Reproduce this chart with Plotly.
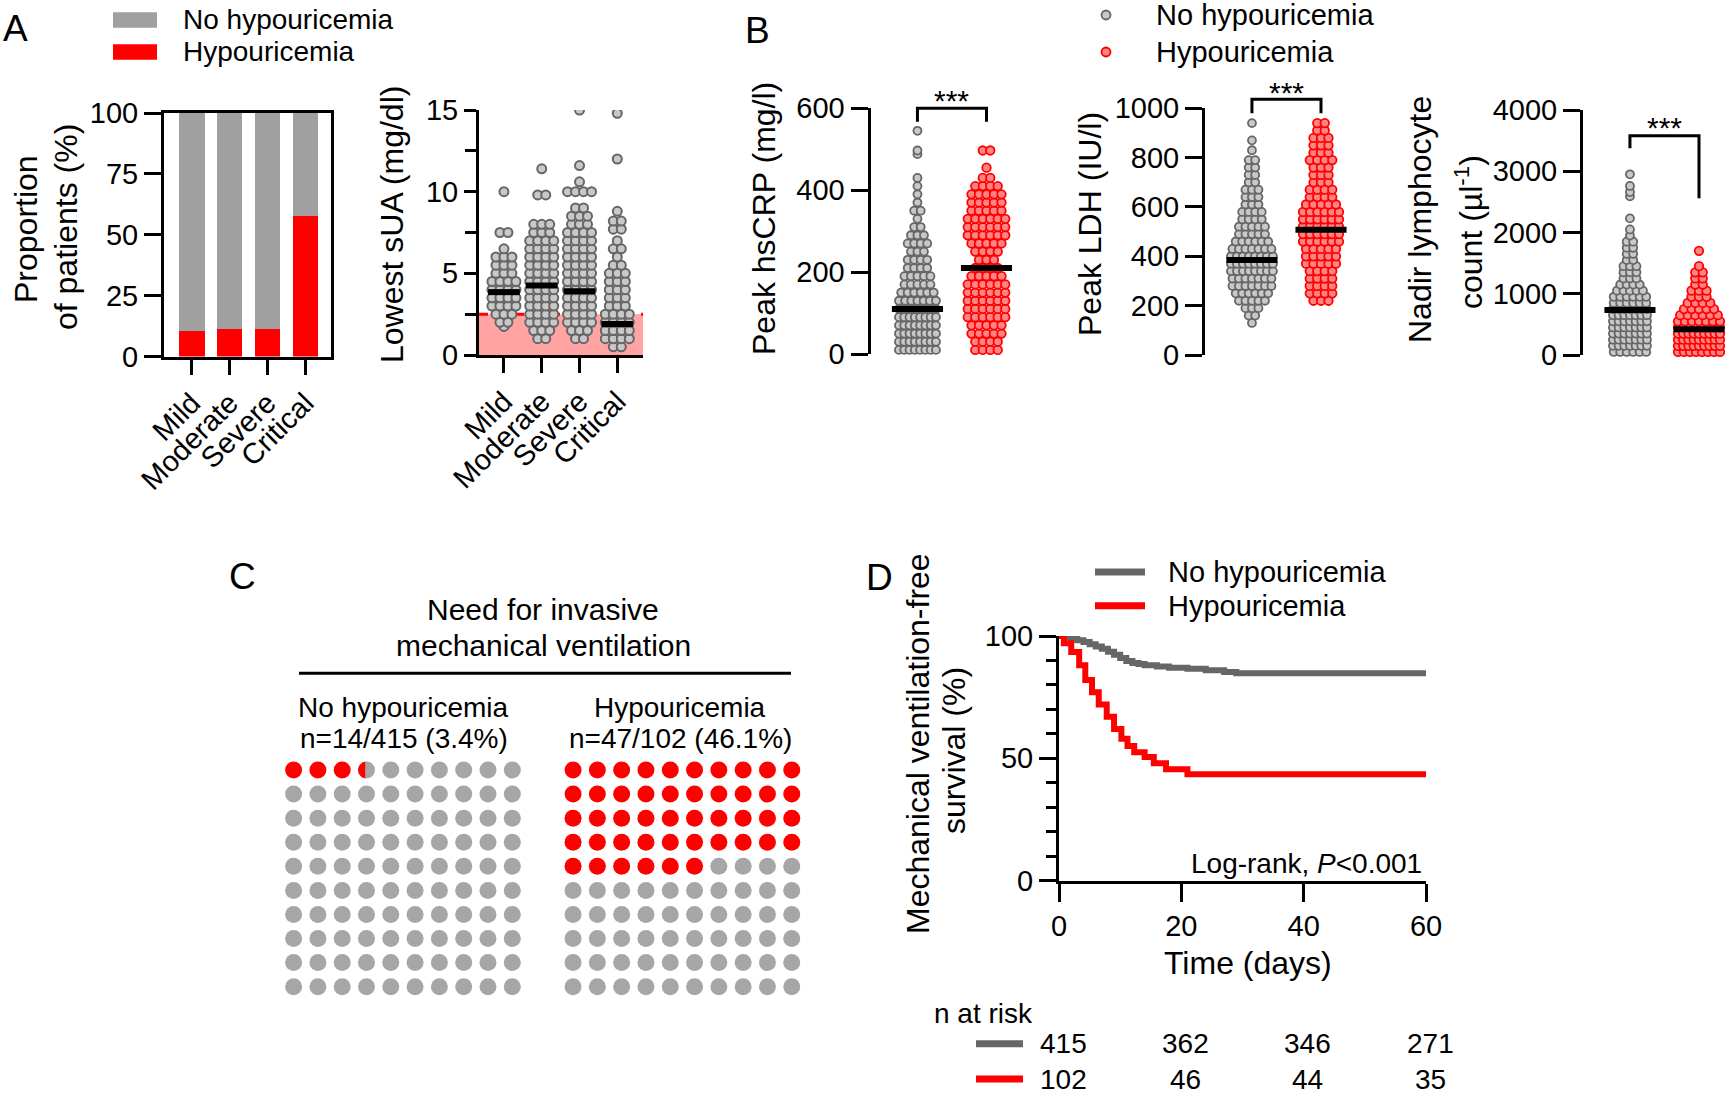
import math
import plotly.graph_objects as go

W, H = 1729, 1097
FONT = "Arial, Liberation Sans, Helvetica, sans-serif"

# ---------------- data ----------------
severity = ["Mild", "Moderate", "Severe", "Critical"]
hypo_pct = [10.3, 11.1, 11.5, 57.5]
no_hypo_pct = [89.7, 88.9, 88.5, 42.5]

# Lowest sUA (mg/dl): value rows and number of points per row, per severity
sua_mild_vals = [1.75, 2.0, 2.5, 3.0, 3.5, 4.0, 4.5, 5.0, 5.5, 6.0, 6.5, 7.5, 10.0]
sua_mild_counts = [1, 2, 3, 4, 4, 4, 4, 3, 3, 3, 1, 2, 1]
sua_moderate_vals = [1.0, 1.5, 2.0, 2.5, 3.0, 3.5, 4.0, 4.5, 5.0, 5.5, 6.0, 6.5, 7.0, 7.5, 8.0, 9.8, 11.4]
sua_moderate_counts = [2, 3, 4, 4, 4, 4, 4, 4, 4, 4, 4, 4, 4, 3, 3, 2, 1]
sua_severe_vals = [1.0, 1.5, 2.0, 2.5, 3.0, 3.5, 4.0, 4.5, 5.0, 5.5, 6.0, 6.5, 7.0, 7.5, 8.0, 8.5, 9.0, 10.0, 10.6, 11.6, 15.0]
sua_severe_counts = [2, 3, 4, 4, 4, 4, 4, 4, 4, 4, 4, 4, 4, 4, 3, 3, 2, 4, 1, 1, 1]
sua_critical_vals = [0.5, 1.0, 1.5, 2.0, 2.5, 3.0, 3.5, 4.0, 4.5, 5.0, 5.5, 6.0, 6.5, 7.0, 7.7, 8.2, 8.8, 12.0, 14.8]
sua_critical_counts = [2, 4, 4, 4, 4, 3, 3, 3, 3, 3, 2, 1, 2, 1, 2, 2, 1, 1, 1]
sua_medians = [3.85, 4.25, 3.9, 1.9]
sua_cutoff = 2.5

# Peak hsCRP (mg/l)
crp_no_vals = [10, 30, 50, 70, 90, 110, 130, 150, 170, 190, 210, 230, 250, 270, 290, 310, 330, 350, 370, 390, 410, 430, 488, 497, 545]
crp_no_counts = [8, 8, 8, 8, 8, 8, 7, 6, 5, 5, 4, 4, 3, 4, 3, 2, 1, 2, 1, 1, 1, 1, 1, 1, 1]
crp_hypo_vals = [10, 30, 50, 70, 90, 110, 130, 150, 170, 190, 210, 230, 250, 270, 290, 310, 330, 350, 370, 390, 410, 430, 455, 497]
crp_hypo_counts = [4, 4, 5, 5, 6, 6, 6, 6, 6, 5, 4, 3, 4, 5, 6, 6, 6, 5, 5, 5, 4, 2, 1, 2]
crp_medians = [110, 210]

# Peak LDH (IU/l)
ldh_no_vals = [130, 160, 190, 220, 250, 280, 310, 340, 370, 400, 430, 460, 490, 520, 550, 580, 610, 640, 670, 700, 730, 760, 790, 830, 870, 940]
ldh_no_counts = [1, 2, 3, 5, 6, 7, 7, 8, 8, 8, 7, 6, 5, 5, 4, 4, 3, 3, 3, 2, 2, 2, 2, 1, 1, 1]
ldh_hypo_vals = [220, 250, 280, 310, 340, 370, 400, 430, 460, 490, 520, 550, 580, 610, 640, 670, 700, 730, 760, 790, 820, 850, 880, 910, 940]
ldh_hypo_counts = [3, 4, 4, 4, 4, 5, 5, 5, 6, 6, 6, 6, 6, 5, 4, 4, 3, 3, 3, 4, 3, 3, 3, 2, 2]
ldh_medians = [385, 508]

# Nadir lymphocyte count (per µl)
lym_no_vals = [50, 150, 250, 350, 450, 550, 650, 750, 850, 950, 1050, 1150, 1250, 1350, 1450, 1550, 1650, 1750, 1850, 1950, 2050, 2230, 2590, 2660, 2760, 2950]
lym_no_counts = [6, 7, 7, 7, 7, 7, 7, 7, 6, 6, 5, 4, 3, 3, 3, 2, 2, 2, 2, 1, 1, 1, 1, 1, 1, 1]
lym_hypo_vals = [50, 150, 250, 350, 450, 550, 650, 750, 850, 950, 1050, 1150, 1250, 1350, 1450, 1700]
lym_hypo_counts = [8, 9, 9, 9, 8, 7, 6, 5, 4, 3, 3, 2, 2, 2, 1, 1]
lym_medians = [735, 420]

# Need for invasive mechanical ventilation (%)
mv_groups = ["No hypouricemia", "Hypouricemia"]
mv_text = ["n=14/415 (3.4%)", "n=47/102 (46.1%)"]
mv_pct = [3.4, 46.1]

# Kaplan-Meier: mechanical ventilation-free survival (%)
km_no_t = [0, 1, 2, 3, 4, 5, 6, 7, 8, 9, 10, 11, 12, 13, 14, 16, 18, 21, 24, 27, 29, 60]
km_no_s = [100, 99.5, 99, 98.3, 97.5, 96.6, 95.7, 94.8, 93.6, 92.3, 91, 89.8, 89, 88.5, 88, 87.5, 87, 86.6, 86, 85.3, 84.8, 84.8]
km_hypo_t = [0, 0.8, 2, 3.3, 4.3, 5.4, 6.5, 7.8, 9, 10.2, 11.2, 12.3, 14, 15.5, 17.5, 21, 60]
km_hypo_s = [100, 97, 93.5, 88, 82, 77, 72, 67, 62, 58, 55, 52.5, 50.5, 48, 45.5, 43.5, 43.5]
risk_times = [0, 20, 40, 60]
risk_no = [415, 362, 346, 271]
risk_hypo = [102, 46, 44, 35]

# ---------------- styling ----------------
GRAY_BAR = "#a0a0a0"
RED = "#ff0000"
DARK = "#666666"
PT_FILL = "#c8c8c8"
RED_FILL = "#ff8585"
PINK = "#ffa3a3"
WAFFLE_GRAY = "#a6a6a6"
TICKLEN = 17


def X(px):
    return px / W


def Y(py):
    return 1 - py / H


AX = dict(showgrid=False, zeroline=False, showline=True, linecolor="black", linewidth=3, automargin=False,
          ticks="outside", tickwidth=3, tickcolor="black", ticklen=TICKLEN,
          tickfont=dict(family=FONT, size=29, color="black"))
HIDDEN = dict(visible=False, showgrid=False, zeroline=False, automargin=False)

# panel pixel boxes (left, right, top, bottom) and ranges
P = {
    "A1": dict(box=(164, 331, 113, 356.5), xr=[-0.74, 3.68], yr=[0, 100]),
    "A2": dict(box=(479, 643, 110, 355), xr=[-0.66, 3.68], yr=[0, 15]),
    "B1": dict(box=(870.5, 1015.5, 108.3, 354), xr=[-0.68, 1.42], yr=[0, 600]),
    "B2": dict(box=(1205, 1350, 108.3, 355), xr=[-0.68, 1.42], yr=[0, 1000]),
    "B3": dict(box=(1583, 1728, 110, 355), xr=[-0.68, 1.42], yr=[0, 4000]),
    "C": dict(box=(281.45, 803.9, 758, 998.7), xr=[-0.5, 21], yr=[9.5, -0.5]),
    "D": dict(box=(1059, 1426, 636, 880.5), xr=[0, 60], yr=[0, 100]),
}


def ppu_x(p):
    b = P[p]["box"]
    return (b[1] - b[0]) / (P[p]["xr"][1] - P[p]["xr"][0])


def ppu_y(p):
    b = P[p]["box"]
    return (b[3] - b[2]) / abs(P[p]["yr"][1] - P[p]["yr"][0])


def data_to_px_x(p, v):
    return P[p]["box"][0] + (v - P[p]["xr"][0]) * ppu_x(p)


def dom(p):
    b = P[p]["box"]
    return [X(b[0]), X(b[1])], [Y(b[3]), Y(b[2])]


def swarm(vals, counts, center, ppu, spacing_px, wmax_px):
    xs, ys = [], []
    for v, n in zip(vals, counts):
        s = spacing_px if n <= 1 else min(spacing_px, wmax_px / (n - 1))
        for i in range(n):
            xs.append(center + (i - (n - 1) / 2) * s / ppu)
            ys.append(v)
    return xs, ys


fig = go.Figure()

# ---------------- A1: stacked bars ----------------
fig.add_trace(go.Bar(x=[0, 1, 2, 3], y=hypo_pct, width=0.67, marker=dict(color=RED, line=dict(width=0)),
                     xaxis="x", yaxis="y"))
fig.add_trace(go.Bar(x=[0, 1, 2, 3], y=no_hypo_pct, width=0.67, marker=dict(color=GRAY_BAR, line=dict(width=0)),
                     xaxis="x", yaxis="y"))

# ---------------- A2: lowest sUA ----------------
sua_sets = [(sua_mild_vals, sua_mild_counts), (sua_moderate_vals, sua_moderate_counts),
            (sua_severe_vals, sua_severe_counts), (sua_critical_vals, sua_critical_counts)]
fig.add_shape(type="rect", xref="x2", yref="y2", x0=P["A2"]["xr"][0], x1=P["A2"]["xr"][1], y0=0, y1=sua_cutoff,
              fillcolor=PINK, line=dict(width=0), layer="below")
fig.add_shape(type="line", xref="x2", yref="y2", x0=P["A2"]["xr"][0], x1=P["A2"]["xr"][1], y0=sua_cutoff,
              y1=sua_cutoff, line=dict(color=RED, width=3, dash="dash"), layer="below")
for i, (vals, cnts) in enumerate(sua_sets):
    xs, ys = swarm(vals, cnts, i, ppu_x("A2"), 8, 26)
    fig.add_trace(go.Scatter(x=xs, y=ys, mode="markers", xaxis="x2", yaxis="y2",
                             marker=dict(size=9, color=PT_FILL, line=dict(color=DARK, width=2))))
for i, m in enumerate(sua_medians):
    fig.add_trace(go.Scatter(x=[i - 0.42, i + 0.42], y=[m, m], mode="lines", xaxis="x2", yaxis="y2",
                             line=dict(color="black", width=6)))

# ---------------- B: three scatter panels ----------------
b_sets = [
    ("B1", "x3", "y3", (crp_no_vals, crp_no_counts), (crp_hypo_vals, crp_hypo_counts), crp_medians, (37, 38)),
    ("B2", "x4", "y4", (ldh_no_vals, ldh_no_counts), (ldh_hypo_vals, ldh_hypo_counts), ldh_medians, (42, 36)),
    ("B3", "x5", "y5", (lym_no_vals, lym_no_counts), (lym_hypo_vals, lym_hypo_counts), lym_medians, (34, 42)),
]
for p, xa, ya, g0, g1, meds, wmax in b_sets:
    xs, ys = swarm(g0[0], g0[1], 0, ppu_x(p), 6.5, wmax[0])
    fig.add_trace(go.Scatter(x=xs, y=ys, mode="markers", xaxis=xa, yaxis=ya, cliponaxis=False,
                             marker=dict(size=8, color=PT_FILL, line=dict(color=DARK, width=1.8))))
    xs, ys = swarm(g1[0], g1[1], 1, ppu_x(p), 7.5, wmax[1])
    fig.add_trace(go.Scatter(x=xs, y=ys, mode="markers", xaxis=xa, yaxis=ya, cliponaxis=False,
                             marker=dict(size=8.5, color=RED_FILL, line=dict(color=RED, width=1.8))))
    for i, m in enumerate(meds):
        fig.add_trace(go.Scatter(x=[i - 0.37, i + 0.37], y=[m, m], mode="lines", xaxis=xa, yaxis=ya,
                                 line=dict(color="black", width=6)))

# ---------------- C: waffle ----------------
col_offsets = [0, 11.5]
for g, pct in enumerate(mv_pct):
    full = int(math.floor(pct))
    frac = pct - full
    xs_r, ys_r, xs_g, ys_g = [], [], [], []
    for k in range(100):
        r, c = divmod(k, 10)
        x = col_offsets[g] + c
        if k < full:
            xs_r.append(x)
            ys_r.append(r)
        else:
            xs_g.append(x)
            ys_g.append(r)
    fig.add_trace(go.Scatter(x=xs_g, y=ys_g, mode="markers", xaxis="x6", yaxis="y6",
                             marker=dict(size=17, color=WAFFLE_GRAY, line=dict(width=0))))
    fig.add_trace(go.Scatter(x=xs_r, y=ys_r, mode="markers", xaxis="x6", yaxis="y6",
                             marker=dict(size=17, color=RED, line=dict(width=0))))
    if frac >= 0.25:
        # left circular segment covering `frac` of the dot's area
        lo, hi = 0.0, 2.0
        for _ in range(60):
            h = (lo + hi) / 2
            d = 1 - h
            a = (math.acos(d) - d * math.sqrt(max(0.0, 1 - d * d))) / math.pi
            if a < frac:
                lo = h
            else:
                hi = h
        th0 = math.acos(h - 1)
        r_px = 8.5
        r, c = divmod(full, 10)
        cx, cy = col_offsets[g] + c, r
        sx, sy = [], []
        n = 40
        for j in range(n + 1):
            th = th0 + (2 * math.pi - 2 * th0) * j / n
            sx.append(cx + r_px * math.cos(th) / ppu_x("C"))
            sy.append(cy + r_px * math.sin(th) / ppu_y("C"))
        sx.append(sx[0])
        sy.append(sy[0])
        fig.add_trace(go.Scatter(x=sx, y=sy, mode="lines", fill="toself", fillcolor=RED,
                                 line=dict(width=0, color=RED), xaxis="x6", yaxis="y6"))

# ---------------- D: Kaplan-Meier ----------------
fig.add_trace(go.Scatter(x=km_no_t, y=km_no_s, mode="lines", line=dict(color=DARK, width=6, shape="hv"),
                         xaxis="x7", yaxis="y7"))
fig.add_trace(go.Scatter(x=km_hypo_t, y=km_hypo_s, mode="lines", line=dict(color=RED, width=6, shape="hv"),
                         xaxis="x7", yaxis="y7"))

# ---------------- axes ----------------
xd, yd = dom("A1")
fig.update_layout(
    xaxis=dict(AX, domain=xd, range=P["A1"]["xr"], tickvals=[0, 1, 2, 3], ticktext=severity, tickangle=-45,
               ticklen=15, mirror=True, anchor="y"),
    yaxis=dict(AX, domain=yd, range=P["A1"]["yr"], tickvals=[0, 25, 50, 75, 100], mirror=True, anchor="x"),
)
xd, yd = dom("A2")
fig.update_layout(
    xaxis2=dict(AX, domain=xd, range=P["A2"]["xr"], tickvals=[0, 1, 2, 3], ticktext=severity, tickangle=-45,
                ticklen=15, anchor="y2"),
    yaxis2=dict(AX, domain=yd, range=P["A2"]["yr"], tickvals=[0, 5, 10, 15], anchor="x2", ticklen=12,
                minor=dict(tickvals=[2.5, 7.5, 12.5], ticks="outside", ticklen=11, tickwidth=3, tickcolor="black")),
)
for p, xn, yn, xa, ya, tv in [("B1", "xaxis3", "yaxis3", "x3", "y3", [0, 200, 400, 600]),
                              ("B2", "xaxis4", "yaxis4", "x4", "y4", [0, 200, 400, 600, 800, 1000]),
                              ("B3", "xaxis5", "yaxis5", "x5", "y5", [0, 1000, 2000, 3000, 4000])]:
    xd, yd = dom(p)
    fig.update_layout({xn: dict(HIDDEN, domain=xd, range=P[p]["xr"], anchor=ya),
                       yn: dict(AX, domain=yd, range=P[p]["yr"], tickvals=tv, anchor=xa)})
xd, yd = dom("C")
fig.update_layout(xaxis6=dict(HIDDEN, domain=xd, range=P["C"]["xr"], anchor="y6"),
                  yaxis6=dict(HIDDEN, domain=yd, range=P["C"]["yr"], anchor="x6"))
xd, yd = dom("D")
fig.update_layout(
    xaxis7=dict(AX, domain=xd, range=P["D"]["xr"], tickvals=risk_times, ticklen=18, anchor="y7"),
    yaxis7=dict(AX, domain=yd, range=P["D"]["yr"], tickvals=[0, 50, 100], anchor="x7",
                minor=dict(tickvals=[10, 20, 30, 40, 60, 70, 80, 90], ticks="outside", ticklen=10, tickwidth=3,
                           tickcolor="black")),
)


# ---------------- texts ----------------
def txt(s, x, y, size=29, xanchor="center", yanchor="middle", angle=0):
    fig.add_annotation(text=s, x=X(x), y=Y(y), xref="paper", yref="paper", showarrow=False,
                       font=dict(size=size, family=FONT, color="black"), xanchor=xanchor, yanchor=yanchor,
                       textangle=angle)


def hline(x0, x1, y, color, width):
    fig.add_shape(type="line", xref="paper", yref="paper", x0=X(x0), x1=X(x1), y0=Y(y), y1=Y(y),
                  line=dict(color=color, width=width))


# panel letters
txt("A", 1, 29, 37, xanchor="left")
txt("B", 743, 30, 37, xanchor="left")
txt("C", 227, 576, 37, xanchor="left")
txt("D", 864, 577, 37, xanchor="left")

# A legend
for yy, col, lab in [(20, GRAY_BAR, "No hypouricemia"), (52, RED, "Hypouricemia")]:
    fig.add_shape(type="rect", xref="paper", yref="paper", x0=X(113), x1=X(157), y0=Y(yy - 7.7), y1=Y(yy + 7.7),
                  fillcolor=col, line=dict(width=0))
    txt(lab, 181, yy, 28, xanchor="left")

# axis titles
txt("Proportion", 26, 229, 32, angle=-90)
txt("of patients (%)", 66, 227, 32, angle=-90)
txt("Lowest sUA (mg/dl)", 392, 225, 32, angle=-90)
txt("Peak hsCRP (mg/l)", 764, 219, 32, angle=-90)
txt("Peak LDH (IU/l)", 1090, 224, 32, angle=-90)
txt("Nadir lymphocyte", 1420, 220, 32, angle=-90)
txt("count (µl<sup>-1</sup>)", 1469, 232, 32, angle=-90)

# B legend
for yy, fc, lc, lab in [(15, PT_FILL, DARK, "No hypouricemia"), (52, RED_FILL, RED, "Hypouricemia")]:
    fig.add_shape(type="circle", xref="paper", yref="paper", xsizemode="pixel", ysizemode="pixel",
                  xanchor=X(1106), yanchor=Y(yy), x0=-4.5, x1=4.5, y0=-4.5, y1=4.5,
                  fillcolor=fc, line=dict(color=lc, width=1.8))
    txt(lab, 1154, yy, 29, xanchor="left")

# significance brackets
for p, top, leg_l, leg_r, star_y in [("B1", 108.3, 121.7, 121.7, 100.5), ("B2", 99.3, 113.3, 113.3, 92),
                                     ("B3", 135.7, 148.3, 198.3, 128)]:
    xl = data_to_px_x(p, 0)
    xr = data_to_px_x(p, 1)
    path = "M {a},{b} L {a},{c} L {d},{c} L {d},{e}".format(a=X(xl), b=Y(leg_l), c=Y(top), d=X(xr), e=Y(leg_r))
    fig.add_shape(type="path", xref="paper", yref="paper", path=path, line=dict(color="black", width=3))
    txt("***", (xl + xr) / 2, star_y, 30)

# C texts
txt("Need for invasive", 543, 609, 30)
txt("mechanical ventilation", 543, 645, 30)
hline(299, 791, 673.3, "black", 3)
for g, cx in enumerate([403.6, 680.4]):
    txt(mv_groups[g], cx, 707, 28)
    txt(mv_text[g], cx, 738, 28)

# D texts
for yy, col, lab in [(572, DARK, "No hypouricemia"), (605.7, RED, "Hypouricemia")]:
    hline(1095, 1145, yy, col, 7)
    txt(lab, 1165.7, yy, 29, xanchor="left")
txt("Log-rank, <i>P</i>&lt;0.001", 1424, 863, 28, xanchor="right")
txt("Time (days)", 1248, 963, 32)
txt("Mechanical ventilation-free", 918, 744, 32, angle=-90)
txt("survival (%)", 954, 751, 32, angle=-90)
txt("n at risk", 932, 1013, 28, xanchor="left")
for yy, col, nums in [(1043.7, DARK, risk_no), (1079, RED, risk_hypo)]:
    hline(976, 1023, yy, col, 7)
    for t, n in zip(risk_times, nums):
        txt(str(n), data_to_px_x("D", t) + 4, yy, 28)

fig.update_layout(width=W, height=H, margin=dict(l=0, r=0, t=0, b=0, pad=0), barmode="stack",
                  paper_bgcolor="white", plot_bgcolor="rgba(0,0,0,0)", showlegend=False,
                  font=dict(family=FONT, color="black"))

fig.write_html("out.html", config={"displayModeBar": False},
               post_script="document.body.style.margin='0';document.body.style.overflow='hidden';")
